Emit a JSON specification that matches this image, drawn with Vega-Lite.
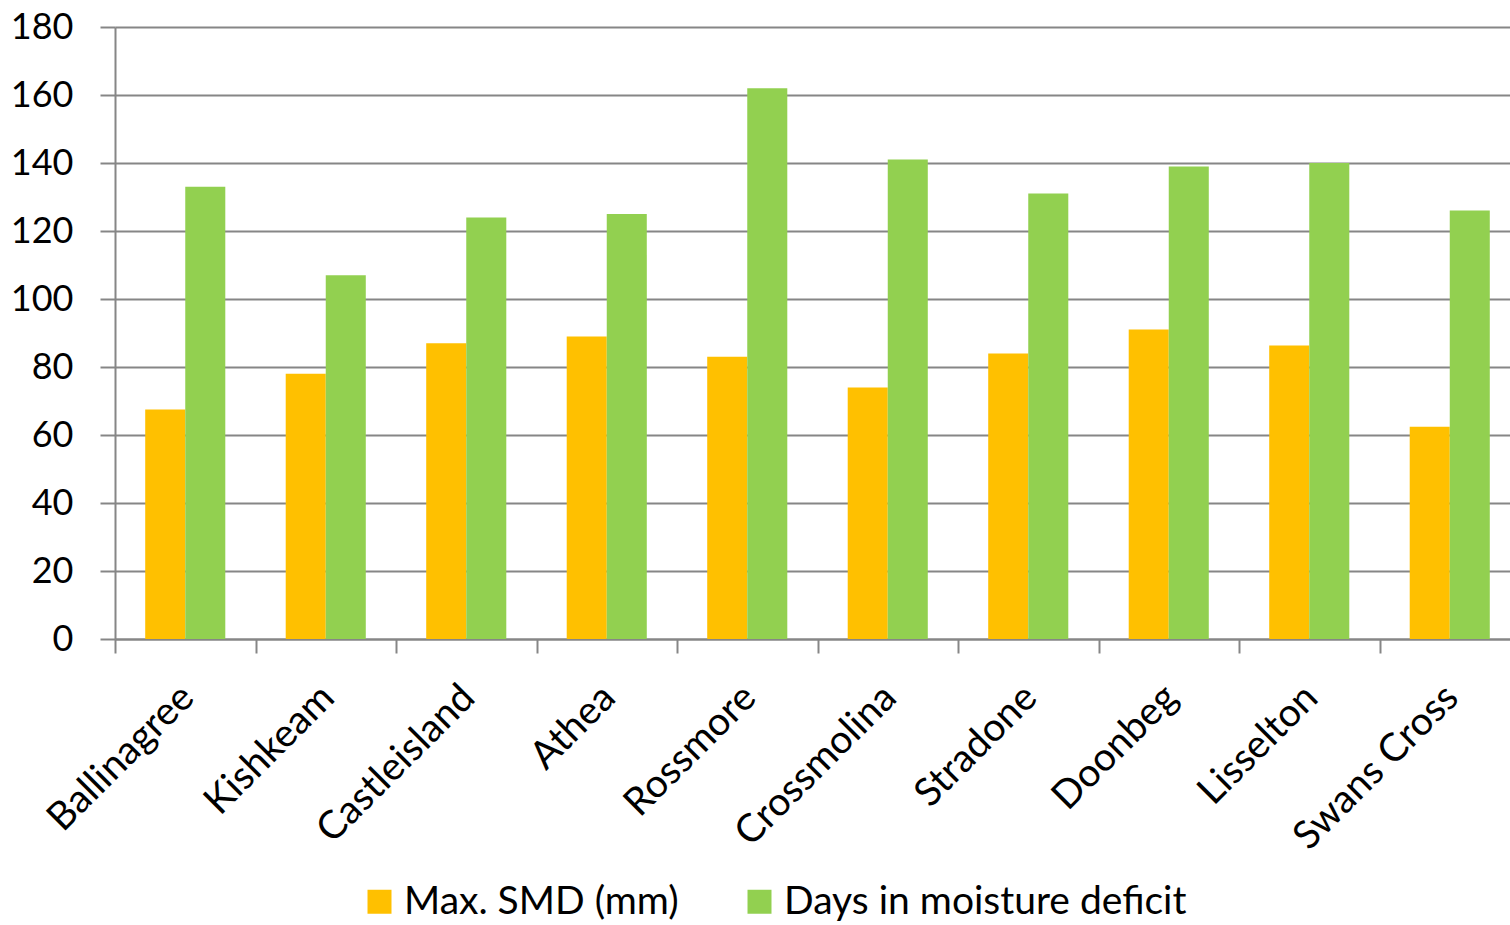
{
  "$schema": "https://vega.github.io/schema/vega-lite/v6.json",
  "width": 1395,
  "height": 612,
  "autosize": {"type": "none"},
  "padding": {"left": 115, "top": 27, "right": 0, "bottom": 286},
  "background": "white",
  "config": {"view": {"stroke": null}, "font": "Lato"},
  "data": {
    "values": [
      {"site": "Ballinagree", "series": "Max. SMD (mm)", "value": 67.5},
      {"site": "Ballinagree", "series": "Days in moisture deficit", "value": 133},
      {"site": "Kishkeam", "series": "Max. SMD (mm)", "value": 78},
      {"site": "Kishkeam", "series": "Days in moisture deficit", "value": 107},
      {"site": "Castleisland", "series": "Max. SMD (mm)", "value": 87},
      {"site": "Castleisland", "series": "Days in moisture deficit", "value": 124},
      {"site": "Athea", "series": "Max. SMD (mm)", "value": 89},
      {"site": "Athea", "series": "Days in moisture deficit", "value": 125},
      {"site": "Rossmore", "series": "Max. SMD (mm)", "value": 83},
      {"site": "Rossmore", "series": "Days in moisture deficit", "value": 162},
      {"site": "Crossmolina", "series": "Max. SMD (mm)", "value": 74},
      {"site": "Crossmolina", "series": "Days in moisture deficit", "value": 141},
      {"site": "Stradone", "series": "Max. SMD (mm)", "value": 84},
      {"site": "Stradone", "series": "Days in moisture deficit", "value": 131},
      {"site": "Doonbeg", "series": "Max. SMD (mm)", "value": 91},
      {"site": "Doonbeg", "series": "Days in moisture deficit", "value": 139},
      {"site": "Lisselton", "series": "Max. SMD (mm)", "value": 86.3},
      {"site": "Lisselton", "series": "Days in moisture deficit", "value": 140},
      {"site": "Swans Cross", "series": "Max. SMD (mm)", "value": 62.4},
      {"site": "Swans Cross", "series": "Days in moisture deficit", "value": 126}
    ]
  },
  "mark": {"type": "bar"},
  "encoding": {
    "x": {
      "field": "site",
      "type": "nominal",
      "sort": null,
      "scale": {"range": [0, 1405], "paddingInner": 0.43, "paddingOuter": 0.215},
      "axis": {
        "title": null,
        "labelAngle": -45,
        "labelAlign": "right",
        "labelBaseline": "middle",
        "labelFont": "Lato",
        "labelFontSize": 39,
        "labelColor": "black",
        "labelPadding": 38,
        "labelOverlap": false,
        "labelLimit": 0,
        "tickSize": 14,
        "tickWidth": 2,
        "tickColor": "#868686",
        "domainColor": "#868686",
        "domainWidth": 2,
        "tickOffset": -70.25,
        "labelOffset": 72,
        "grid": false
      }
    },
    "xOffset": {
      "field": "series",
      "type": "nominal",
      "sort": ["Max. SMD (mm)", "Days in moisture deficit"],
      "scale": {"paddingInner": 0, "paddingOuter": 0}
    },
    "y": {
      "field": "value",
      "type": "quantitative",
      "scale": {"domain": [0, 180], "nice": false},
      "axis": {
        "title": null,
        "values": [0, 20, 40, 60, 80, 100, 120, 140, 160, 180],
        "grid": true,
        "gridColor": "#868686",
        "gridWidth": 2,
        "domainColor": "#868686",
        "domainWidth": 2,
        "tickColor": "#868686",
        "tickWidth": 2,
        "tickSize": 15,
        "labelPadding": 27,
        "labelFont": "Lato",
        "labelFontSize": 36,
        "labelColor": "black"
      }
    },
    "color": {
      "field": "series",
      "type": "nominal",
      "scale": {"domain": ["Max. SMD (mm)", "Days in moisture deficit"], "range": ["#FFC000", "#92D050"]},
      "legend": {
        "title": null,
        "orient": "none",
        "legendX": 245,
        "legendY": 855,
        "direction": "horizontal",
        "padding": 0,
        "symbolType": "square",
        "symbolSize": 576,
        "symbolStrokeWidth": 0,
        "labelFont": "Lato",
        "labelFontSize": 39,
        "labelColor": "black",
        "labelOffset": 5,
        "labelLimit": 0,
        "columnPadding": 61
      }
    }
  }
}
